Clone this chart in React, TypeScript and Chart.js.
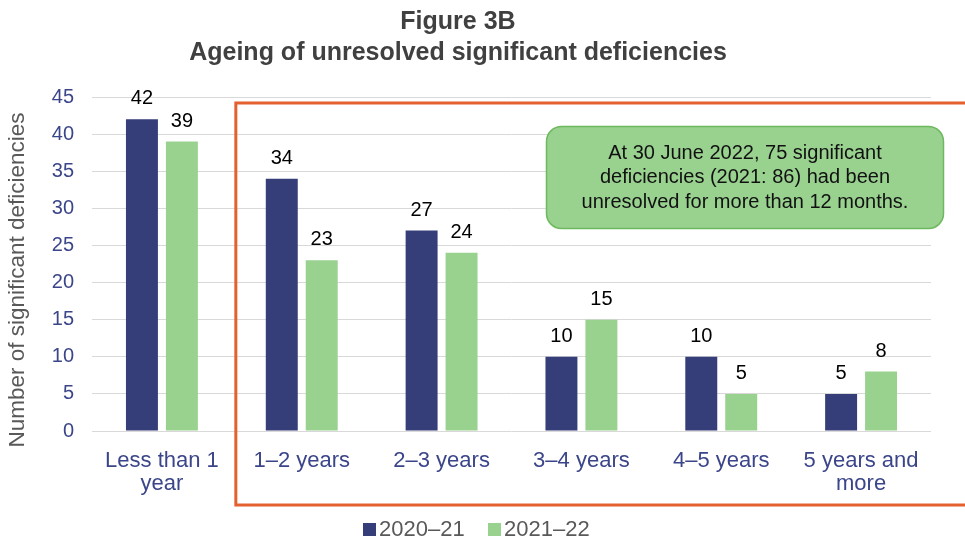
import React, { useEffect, useRef } from "react";
import { Chart, registerables } from "chart.js";

Chart.register(...registerables);

const categories: (string | string[])[] = [
  ["Less than 1", "year"],
  "1–2 years",
  "2–3 years",
  "3–4 years",
  "4–5 years",
  ["5 years and", "more"],
];
const values2020_21 = [42, 34, 27, 10, 10, 5];
const values2021_22 = [39, 23, 24, 15, 5, 8];
const seriesNames = ["2020–21", "2021–22"];
const seriesColors = ["#363E7A", "#99D18F"];
const yMin = 0;
const yMax = 45;
const yStep = 5;
const titleLines = ["Figure 3B", "Ageing of unresolved significant deficiencies"];
const yAxisTitle = "Number of significant deficiencies";
const noteLines = [
  "At 30 June 2022, 75 significant",
  "deficiencies (2021: 86) had been",
  "unresolved for more than 12 months.",
];

const FONT = '"Liberation Sans", Arial, Helvetica, sans-serif';

function roundRect(ctx: CanvasRenderingContext2D, x: number, y: number, w: number, h: number, r: number) {
  ctx.beginPath();
  ctx.moveTo(x + r, y);
  ctx.lineTo(x + w - r, y);
  ctx.arcTo(x + w, y, x + w, y + r, r);
  ctx.lineTo(x + w, y + h - r);
  ctx.arcTo(x + w, y + h, x + w - r, y + h, r);
  ctx.lineTo(x + r, y + h);
  ctx.arcTo(x, y + h, x, y + h - r, r);
  ctx.lineTo(x, y + r);
  ctx.arcTo(x, y, x + r, y, r);
  ctx.closePath();
}

const decorPlugin = {
  id: "decor",
  afterDatasetsDraw(chart: any) {
    const ctx: CanvasRenderingContext2D = chart.ctx;
    const xs = chart.scales.x;
    const ys = chart.scales.y;
    ctx.save();

    // data labels
    ctx.fillStyle = "#000000";
    ctx.font = `20px ${FONT}`;
    ctx.textAlign = "center";
    ctx.textBaseline = "alphabetic";
    chart.data.datasets.forEach((ds: any, di: number) => {
      const meta = chart.getDatasetMeta(di);
      meta.data.forEach((bar: any, i: number) => {
        ctx.fillText(String(ds.data[i]), bar.x, bar.y - 15);
      });
    });

    // highlight frame
    const left = (xs.getPixelForValue(0) + xs.getPixelForValue(1)) / 2 + 4;
    const top = ys.getPixelForValue(yMax) + 6;
    ctx.strokeStyle = "#E2612F";
    ctx.lineWidth = 3;
    ctx.strokeRect(left, top, 1000, 505 - top);

    // note box
    roundRect(ctx, 546.5, 126.5, 397, 102, 15);
    ctx.fillStyle = "#99D18F";
    ctx.fill();
    ctx.strokeStyle = "#6DB95E";
    ctx.lineWidth = 1.5;
    ctx.stroke();
    ctx.fillStyle = "#111111";
    ctx.font = `20px ${FONT}`;
    ctx.textAlign = "center";
    ctx.textBaseline = "middle";
    noteLines.forEach((l, i) => ctx.fillText(l, 745, 153 + i * 24.5));

    // title
    ctx.fillStyle = "#404040";
    ctx.font = `bold 25px ${FONT}`;
    ctx.textBaseline = "alphabetic";
    ctx.fillText(titleLines[0], 458, 29);
    ctx.fillText(titleLines[1], 458, 60);

    // y axis title
    ctx.save();
    ctx.translate(18, 280);
    ctx.rotate(-Math.PI / 2);
    ctx.fillStyle = "#595959";
    ctx.font = `22.5px ${FONT}`;
    ctx.textBaseline = "middle";
    ctx.fillText(yAxisTitle, 0, 0);
    ctx.restore();

    // legend
    ctx.font = `22px ${FONT}`;
    ctx.textAlign = "left";
    ctx.textBaseline = "alphabetic";
    const legendX = [363, 488];
    seriesNames.forEach((n, i) => {
      ctx.fillStyle = seriesColors[i];
      ctx.fillRect(legendX[i], 523, 13, 13);
      ctx.fillStyle = "#595959";
      ctx.fillText(n, legendX[i] + 16, 536);
    });

    ctx.restore();
  },
};

export default function App() {
  const canvasRef = useRef<HTMLCanvasElement | null>(null);

  useEffect(() => {
    document.body.style.margin = "0";
    const canvas = canvasRef.current;
    if (!canvas) return;
    const chart = new Chart(canvas, {
      type: "bar",
      data: {
        labels: categories as any,
        datasets: [
          {
            label: seriesNames[0],
            data: values2020_21,
            backgroundColor: seriesColors[0],
            categoryPercentage: 0.5714,
            barPercentage: 0.8,
          },
          {
            label: seriesNames[1],
            data: values2021_22,
            backgroundColor: seriesColors[1],
            categoryPercentage: 0.5714,
            barPercentage: 0.8,
          },
        ],
      },
      options: {
        animation: false,
        responsive: false,
        maintainAspectRatio: false,
        layout: { padding: { top: 97, right: 34, left: 0, bottom: 0 } },
        plugins: {
          legend: { display: false },
          title: { display: false },
          tooltip: { enabled: false },
        },
        scales: {
          x: {
            grid: { display: false, drawTicks: false },
            border: { display: false },
            ticks: {
              color: "#3B4589",
              font: { family: FONT, size: 22, lineHeight: 1.05 },
              padding: 18,
              maxRotation: 0,
              autoSkip: false,
            },
            afterFit: (s: any) => {
              s.height = 109;
            },
          },
          y: {
            min: yMin,
            max: yMax,
            ticks: {
              stepSize: yStep,
              color: "#3B4589",
              font: { family: FONT, size: 20 },
              padding: 18,
            },
            grid: { color: "#D9D9D9", lineWidth: 1, drawTicks: false },
            border: { display: false },
            afterFit: (s: any) => {
              s.width = 92;
            },
          },
        },
      },
      plugins: [decorPlugin],
    });
    return () => chart.destroy();
  }, []);

  return (
    <div style={{ width: 965, height: 540, position: "relative" }}>
      <canvas ref={canvasRef} width={965} height={540} style={{ width: 965, height: 540, display: "block" }} />
    </div>
  );
}
